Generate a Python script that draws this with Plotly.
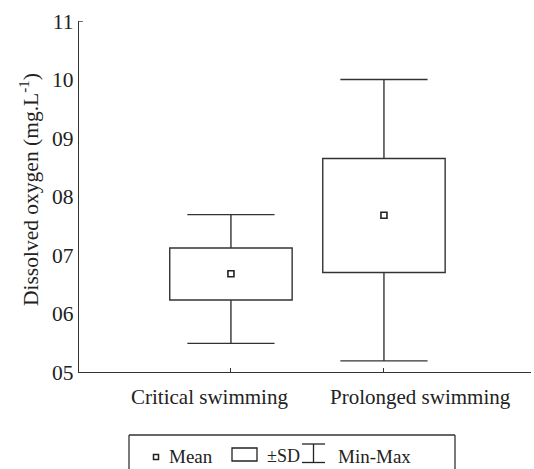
import plotly.graph_objects as go

categories = ["Critical swimming", "Prolonged swimming"]
positions = [0, 1]
means = [6.68, 7.68]
sd_low = [6.23, 6.70]
sd_high = [7.12, 8.65]
mins = [5.49, 5.19]
maxs = [7.69, 10.0]
ytick_vals = [5, 6, 7, 8, 9, 10, 11]
ytick_text = ["05", "06", "07", "08", "09", "10", "11"]

W, H = 534, 469
L, R, T, B = 79, 3, 21, 97
PW, PH = W - L - R, H - T - B

BOX_W = 0.8
CAP_HALF = 0.285
LABEL_SHIFT = [-21, 37]

def px(x):
    return (x - L) / PW

def py(y):
    return (H - B - y) / PH

FONT = "'Liberation Serif', 'Times New Roman', serif"
LC = "#333333"
TC = "#222222"

fig = go.Figure()
fig.add_trace(go.Bar(
    x=positions, base=sd_low, y=[h - l for h, l in zip(sd_high, sd_low)],
    width=BOX_W, marker=dict(color="white", line=dict(color=LC, width=1.4)),
    showlegend=False, hoverinfo="skip",
))
wx, wy = [], []
for p, lo, hi, mn, mx in zip(positions, sd_low, sd_high, mins, maxs):
    wx += [p, p, None, p, p, None, p - CAP_HALF, p + CAP_HALF, None, p - CAP_HALF, p + CAP_HALF, None]
    wy += [hi, mx, None, lo, mn, None, mx, mx, None, mn, mn, None]
fig.add_trace(go.Scatter(x=wx, y=wy, mode="lines", line=dict(color=LC, width=1.4),
                         showlegend=False, hoverinfo="skip", cliponaxis=False))
fig.add_trace(go.Scatter(
    x=positions, y=means, mode="markers",
    marker=dict(symbol="square", size=6, color="white",
                line=dict(color=TC, width=1.6)),
    showlegend=False,
))

shapes = []
shapes.append(dict(type="line", xref="paper", yref="y", x0=0, x1=px(L + 4),
                   y0=11, y1=11, line=dict(color=LC, width=1.4)))
for (x0, y0, x1, y1) in ((129, 435, 455, 435), (129, 435, 129, 475), (455, 435, 455, 475)):
    shapes.append(dict(type="line", xref="paper", yref="paper",
                       x0=px(x0), x1=px(x1), y0=py(y0), y1=py(y1),
                       line=dict(color=LC, width=1.3)))
shapes.append(dict(type="rect", xref="paper", yref="paper",
                   x0=px(153.5), x1=px(158.5), y0=py(454.5), y1=py(459.5),
                   line=dict(color=TC, width=1.5)))
shapes.append(dict(type="rect", xref="paper", yref="paper",
                   x0=px(232), x1=px(257), y0=py(448), y1=py(461),
                   line=dict(color=TC, width=1.3)))
for yy in (444, 462.5):
    shapes.append(dict(type="line", xref="paper", yref="paper",
                       x0=px(302), x1=px(325), y0=py(yy), y1=py(yy),
                       line=dict(color=TC, width=1.3)))
shapes.append(dict(type="line", xref="paper", yref="paper",
                   x0=px(313.5), x1=px(313.5), y0=py(444), y1=py(462.5),
                   line=dict(color=TC, width=1.3)))

annotations = []
for txt, xl, fs in (("Mean", 167, 19), ("±SD", 265, 18), ("Min-Max", 336, 19)):
    annotations.append(dict(text=txt, xref="paper", yref="paper",
                            x=px(xl), y=py(456), xanchor="left", yanchor="middle",
                            showarrow=False, font=dict(family=FONT, size=fs, color=TC)))
for cat, p, sh in zip(categories, positions, LABEL_SHIFT):
    annotations.append(dict(text=cat, xref="x", yref="paper", x=p, xshift=sh,
                            y=py(397), xanchor="center", yanchor="middle",
                            showarrow=False, font=dict(family=FONT, size=21, color=TC)))
annotations.append(dict(text="Dissolved oxygen (mg.L<sup>-1</sup>)", xref="paper", yref="paper",
                        x=px(29), y=py(190), xanchor="center", yanchor="middle",
                        textangle=-90, showarrow=False,
                        font=dict(family=FONT, size=21.5, color=TC)))

fig.update_layout(
    width=W, height=H,
    margin=dict(l=L, r=R, t=T, b=B, autoexpand=False),
    paper_bgcolor="white", plot_bgcolor="white",
    font=dict(family=FONT, size=20, color=TC),
    shapes=shapes, annotations=annotations,
    showlegend=False,
    xaxis=dict(range=[-0.993, 1.961], tickvals=positions, showticklabels=False,
               automargin=False,
               showline=True, linecolor=LC, linewidth=1.4, showgrid=False,
               zeroline=False, ticks="inside", ticklen=4, tickcolor=LC),
    yaxis=dict(range=[5, 11], tickvals=ytick_vals, ticktext=ytick_text,
               automargin=False,
               showline=True, linecolor=LC, linewidth=1.4, showgrid=False,
               zeroline=False, ticks="", tickfont=dict(family=FONT, size=21.5, color=TC)),
)

fig.write_html("out.html")
